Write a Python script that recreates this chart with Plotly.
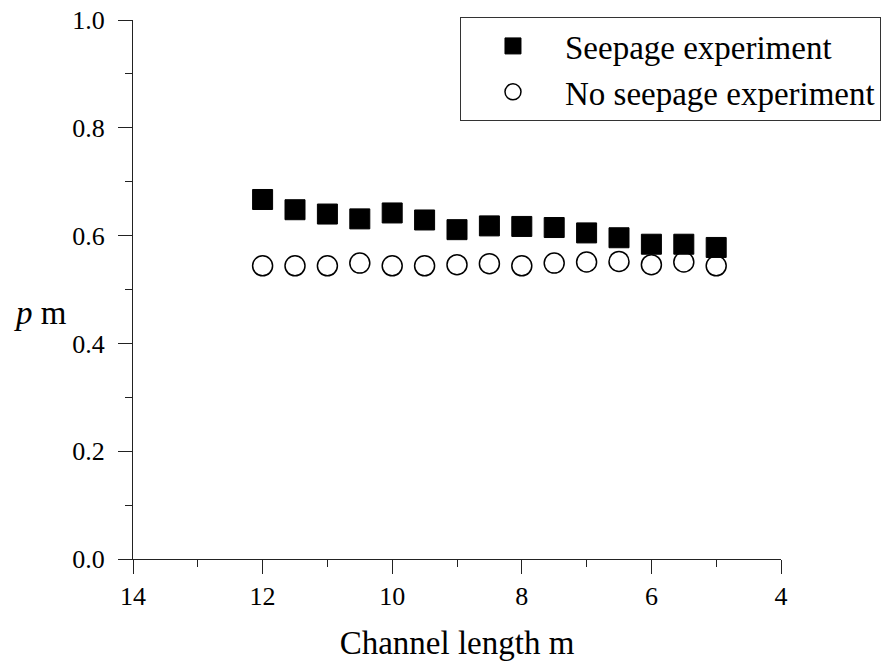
import plotly.graph_objects as go

# Channel position (m) along the flume
channel_length = [12, 11.5, 11, 10.5, 10, 9.5, 9, 8.5, 8, 7.5, 7, 6.5, 6, 5.5, 5]
# p (m) measured with and without seepage
p_seepage = [0.667, 0.648, 0.640, 0.631, 0.642, 0.629, 0.611, 0.618, 0.617, 0.615,
             0.605, 0.596, 0.584, 0.584, 0.578]
p_no_seepage = [0.544, 0.544, 0.544, 0.549, 0.544, 0.544, 0.546, 0.548, 0.544, 0.549,
                0.551, 0.552, 0.546, 0.551, 0.544]

x_ticks = [14, 12, 10, 8, 6, 4]
x_tick_text = ["14", "12", "10", "8", "6", "4"]
x_minor_ticks = [13, 11, 9, 7, 5]
y_ticks = [0.0, 0.2, 0.4, 0.6, 0.8, 1.0]
y_tick_text = ["0.0", "0.2", "0.4", "0.6", "0.8", "1.0"]
y_minor_ticks = [0.1, 0.3, 0.5, 0.7, 0.9]

FONT = "Liberation Serif"
AXIS_COLOR = "#222222"
X_RANGE = [14, 4]
Y_RANGE = [0, 1]
TICK_FONT = dict(family=FONT, size=26, color="black")

fig = go.Figure()
fig.add_trace(go.Scatter(
    x=channel_length, y=p_seepage, mode="markers", name="Seepage experiment",
    marker=dict(symbol="square", size=20, color="black",
                line=dict(color="black", width=1)),
))
fig.add_trace(go.Scatter(
    x=channel_length, y=p_no_seepage, mode="markers", name="No seepage experiment",
    marker=dict(symbol="circle-open", size=20, color="black",
                line=dict(color="black", width=1.5)),
))
# empty trace that carries the overlay axes used for the short (minor) ticks
fig.add_trace(go.Scatter(x=[], y=[], xaxis="x2", yaxis="y2",
                         showlegend=False, hoverinfo="skip"))

fig.update_layout(
    xaxis=dict(
        range=X_RANGE, tickmode="array", tickvals=x_ticks, ticktext=x_tick_text,
        tickfont=TICK_FONT,
        showline=True, linecolor=AXIS_COLOR, linewidth=1,
        ticks="outside", ticklen=14, tickwidth=1, tickcolor=AXIS_COLOR,
        showgrid=False, zeroline=False,
        title=dict(text="Channel length m",
                   font=dict(family=FONT, size=33, color="black"), standoff=20),
    ),
    yaxis=dict(
        range=Y_RANGE, tickmode="array", tickvals=y_ticks, ticktext=y_tick_text,
        tickfont=TICK_FONT, ticklabelstandoff=8,
        showline=True, linecolor=AXIS_COLOR, linewidth=1,
        ticks="outside", ticklen=14, tickwidth=1, tickcolor=AXIS_COLOR,
        showgrid=False, zeroline=False,
    ),
    xaxis2=dict(
        overlaying="x", anchor="y", side="bottom", range=X_RANGE,
        tickmode="array", tickvals=x_minor_ticks, showticklabels=False,
        ticks="outside", ticklen=7, tickwidth=1, tickcolor=AXIS_COLOR,
        showline=False, showgrid=False, zeroline=False,
    ),
    yaxis2=dict(
        overlaying="y", anchor="x", side="left", range=Y_RANGE,
        tickmode="array", tickvals=y_minor_ticks, showticklabels=False,
        ticks="outside", ticklen=7, tickwidth=1, tickcolor=AXIS_COLOR,
        showline=False, showgrid=False, zeroline=False,
    ),
)

# horizontal y-axis label to the left of the tick labels
fig.add_annotation(
    text="<i>p</i> m", xref="paper", yref="y", x=-0.143, y=0.456,
    showarrow=False, xanchor="center", yanchor="middle",
    font=dict(family=FONT, size=33, color="black"),
)

fig.update_layout(
    width=890, height=671,
    font=dict(family=FONT, color="black"),
    margin=dict(l=133, r=109, t=20, b=112, autoexpand=False),
    paper_bgcolor="white", plot_bgcolor="white",
    showlegend=True,
    legend=dict(
        x=0.5046, y=1.0056, xanchor="left", yanchor="top",
        bgcolor="white", bordercolor="#333333", borderwidth=1,
        font=dict(family=FONT, size=33, color="black"),
        itemwidth=94, tracegroupgap=0,
    ),
)

fig.write_html("out.html")
